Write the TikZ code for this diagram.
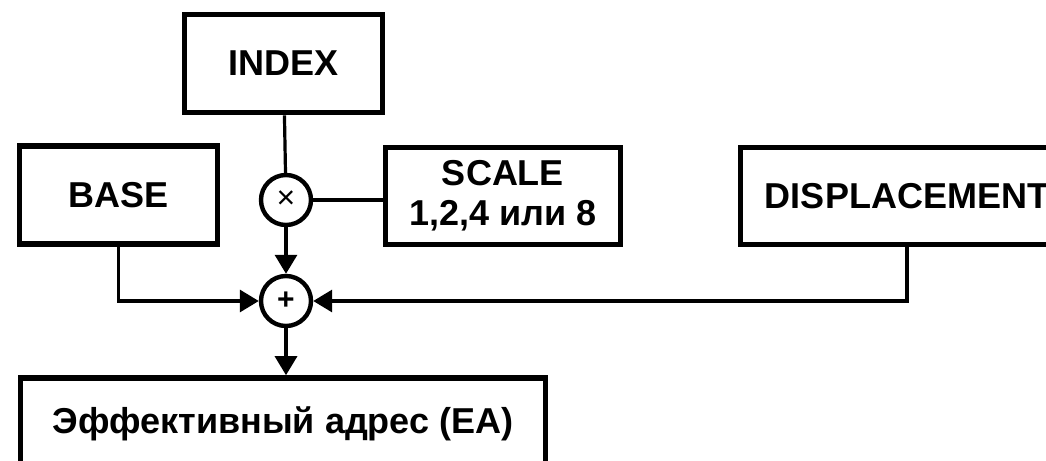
\documentclass[tikz,border=0pt]{standalone}
\usepackage{fontspec}
\setmainfont{Liberation Sans}
\usepackage{tikz}
\usetikzlibrary{arrows.meta}
\tikzset{
  ea/reg/.style={draw, line width=2.8pt, minimum width=99pt, minimum height=49pt, align=center, inner sep=2pt, font=\fontsize{18}{20}\selectfont\bfseries},
  ea/op/.style={draw, circle, line width=2.2pt, inner sep=0pt, minimum size=25pt, font=\fontsize{16}{16}\selectfont},
  ea/line/.style={line width=1.6pt},
  ea/arrow/.style={ea/line, -{Triangle[length=9.5pt,width=11pt]}}
}

\begin{document}
\begin{tikzpicture}[x=0.5pt, y=-0.5pt]
  \clip (0,0) rectangle (1046,461);

  % registers
  \node[ea/reg] (index) at (283.5,63.5) {INDEX};
  \node[ea/reg] (base) at (118.5,195) {BASE};
  \node[ea/reg, minimum width=117.5pt, minimum height=48.5pt] (scale) at (503,196) {SCALE\\1,2,4 или 8};
  \node[ea/reg, minimum width=166.5pt, minimum height=48.5pt] (disp) at (907,196) {DISPLACEMENT};
  \node[ea/reg, minimum width=262.5pt, minimum height=46pt] (ea) at (283,424) {Эффективный адрес (EA)};

  % multiplier and adder
  \node[ea/op] (mul) at (286,200) {×};
  \node[ea/op, font=\fontsize{15}{15}\selectfont\bfseries] (add) at (286,301) {+};

  \draw[ea/line] (index) -- (mul);
  \draw[ea/line] (mul) -- (mul -| scale.west);
  \draw[ea/arrow] (mul) -- (add);
  \draw[ea/arrow] (base.south) |- (add.west);
  \draw[ea/arrow] (disp.south) |- (add.east);
  \draw[ea/arrow] (add) -- (add |- ea.north);
\end{tikzpicture}
\end{document}
